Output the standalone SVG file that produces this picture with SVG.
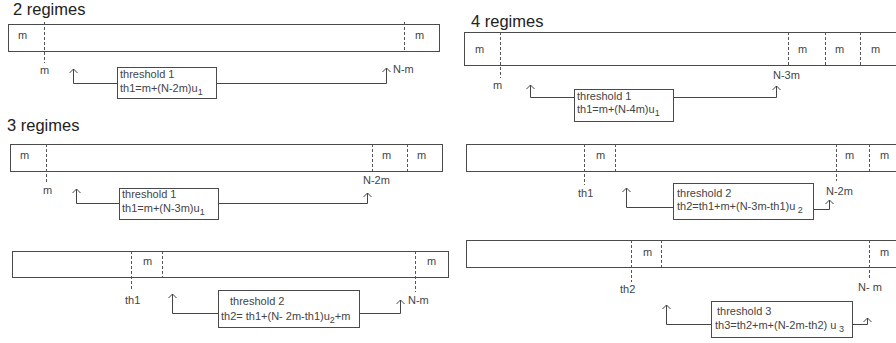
<svg xmlns="http://www.w3.org/2000/svg" width="896" height="343" viewBox="0 0 896 343">
<defs>
<style>
.bar{fill:#fff;stroke:#4a4a4a;stroke-width:1}
.box{fill:#fff;stroke:#4a4a4a;stroke-width:1}
.dash{stroke:#555;stroke-width:1;stroke-dasharray:3 2;fill:none}
.t{font-family:"Liberation Sans",Arial,sans-serif;font-size:11px;fill:#444}
.title{font-family:"Liberation Sans",Arial,sans-serif;font-size:16.5px;fill:#222}
.sub{font-size:9px}
.conn{fill:none;stroke:#444;stroke-width:1;marker-end:url(#arr)}
</style>
<marker id="arr" markerUnits="userSpaceOnUse" viewBox="0 0 6 10" markerWidth="6" markerHeight="10" refX="5.5" refY="5" orient="auto">
<path d="M1.5,1 L5.5,5 L1.5,9" fill="none" stroke="#444" stroke-width="1"/>
</marker>
</defs>
<rect width="896" height="343" fill="#fff"/>

<!-- Titles -->
<g id="titles">
<text class="title" x="13" y="14.5">2 regimes</text>
<text class="title" x="7" y="131">3 regimes</text>
<text class="title" x="471" y="27">4 regimes</text>
</g>

<!-- 2 regimes -->
<g id="bar2">
<rect class="bar" x="8.5" y="24.5" width="431" height="27"/>
<line class="dash" x1="44.5" y1="22" x2="44.5" y2="63"/>
<line class="dash" x1="404.5" y1="22" x2="404.5" y2="52"/>
<text class="t" x="18" y="39">m</text>
<text class="t" x="415" y="39">m</text>
<text class="t" x="40" y="74">m</text>
<text class="t" x="393" y="73">N-m</text>
</g>
<g id="th2r1">
<rect class="box" x="117.5" y="67.5" width="99" height="31"/>
<text class="t" x="120" y="78">threshold 1</text>
<text class="t" x="120" y="91.5">th1=m+(N-2m)u<tspan class="sub" dy="3">1</tspan></text>
</g>

<!-- 3 regimes, bar 1 -->
<g id="bar3a">
<rect class="bar" x="10.5" y="144.5" width="432" height="27"/>
<line class="dash" x1="46.5" y1="144" x2="46.5" y2="182"/>
<line class="dash" x1="372.5" y1="144" x2="372.5" y2="171"/>
<line class="dash" x1="407.5" y1="144" x2="407.5" y2="171"/>
<text class="t" x="20" y="159">m</text>
<text class="t" x="382" y="159">m</text>
<text class="t" x="417" y="159">m</text>
<text class="t" x="43" y="194">m</text>
<text class="t" x="363" y="184">N-2m</text>
</g>
<g id="th3r1">
<rect class="box" x="119.5" y="188.5" width="99" height="31"/>
<text class="t" x="122" y="198">threshold 1</text>
<text class="t" x="122" y="211.5">th1=m+(N-3m)u<tspan class="sub" dy="3">1</tspan></text>
</g>

<!-- 3 regimes, bar 2 -->
<g id="bar3b">
<rect class="bar" x="12.5" y="251.5" width="436" height="26"/>
<line class="dash" x1="131.5" y1="251" x2="131.5" y2="291"/>
<line class="dash" x1="162.5" y1="251" x2="162.5" y2="277"/>
<line class="dash" x1="415.5" y1="251" x2="415.5" y2="292"/>
<text class="t" x="143" y="265">m</text>
<text class="t" x="427" y="265">m</text>
<text class="t" x="125" y="304">th1</text>
<text class="t" x="408" y="304">N-m</text>
</g>
<g id="th3r2">
<rect class="box" x="218.5" y="290.5" width="141" height="37"/>
<text class="t" x="230" y="305">threshold 2</text>
<text class="t" x="221" y="320">th2= th1+(N- 2m-th1)u<tspan class="sub" dy="3">2</tspan><tspan dy="-3">+m</tspan></text>
</g>

<!-- 4 regimes, bar 1 -->
<g id="bar4a">
<rect class="bar" x="464.5" y="32.5" width="440" height="33"/>
<line class="dash" x1="500.5" y1="32" x2="500.5" y2="78"/>
<line class="dash" x1="788.5" y1="32" x2="788.5" y2="65"/>
<line class="dash" x1="825.5" y1="32" x2="825.5" y2="65"/>
<line class="dash" x1="860.5" y1="32" x2="860.5" y2="65"/>
<text class="t" x="475" y="53">m</text>
<text class="t" x="798" y="53">m</text>
<text class="t" x="835" y="53">m</text>
<text class="t" x="871" y="53">m</text>
<text class="t" x="493" y="89">m</text>
<text class="t" x="773" y="79">N-3m</text>
</g>
<g id="th4r1">
<rect class="box" x="574.5" y="89.5" width="99" height="32"/>
<text class="t" x="577" y="100">threshold 1</text>
<text class="t" x="577" y="113">th1=m+(N-4m)u<tspan class="sub" dy="3">1</tspan></text>
</g>

<!-- 4 regimes, bar 2 -->
<g id="bar4b">
<rect class="bar" x="466.5" y="144.5" width="440" height="27"/>
<line class="dash" x1="584.5" y1="144" x2="584.5" y2="185"/>
<line class="dash" x1="615.5" y1="144" x2="615.5" y2="171"/>
<line class="dash" x1="836.5" y1="144" x2="836.5" y2="181"/>
<line class="dash" x1="869.5" y1="144" x2="869.5" y2="171"/>
<text class="t" x="596" y="159">m</text>
<text class="t" x="845" y="159">m</text>
<text class="t" x="880" y="159">m</text>
<text class="t" x="578" y="197">th1</text>
<text class="t" x="826" y="195">N-2m</text>
</g>
<g id="th4r2">
<rect class="box" x="673.5" y="183.5" width="140" height="36"/>
<text class="t" x="677" y="197">threshold 2</text>
<text class="t" x="677" y="210">th2=th1+m+(N-3m-th1)u<tspan class="sub" dy="3"> 2</tspan></text>
</g>

<!-- 4 regimes, bar 3 -->
<g id="bar4c">
<rect class="bar" x="466.5" y="240.5" width="440" height="27"/>
<line class="dash" x1="631.5" y1="240" x2="631.5" y2="282"/>
<line class="dash" x1="661.5" y1="240" x2="661.5" y2="267"/>
<line class="dash" x1="869.5" y1="240" x2="869.5" y2="280"/>
<text class="t" x="643" y="256">m</text>
<text class="t" x="880" y="256">m</text>
<text class="t" x="620" y="293">th2</text>
<text class="t" x="858" y="291">N- m</text>
</g>
<g id="th4r3">
<rect class="box" x="711.5" y="301.5" width="141" height="36"/>
<text class="t" x="717" y="315">threshold 3</text>
<text class="t" x="715" y="329">th3=th2+m+(N-2m-th2) u<tspan class="sub" dy="3"> 3</tspan></text>
</g>

<!-- Connectors -->
<g id="connectors">
<polyline class="conn" points="117.5,83.5 73.5,83.5 73.5,69"/>
<polyline class="conn" points="216.5,83.5 386.5,83.5 386.5,68"/>
<polyline class="conn" points="119.5,203.5 76.5,203.5 76.5,189"/>
<polyline class="conn" points="218.5,203.5 367.5,203.5 367.5,193"/>
<polyline class="conn" points="218.5,313.5 172.5,313.5 172.5,294"/>
<polyline class="conn" points="359.5,313.5 400.5,313.5 400.5,300"/>
<polyline class="conn" points="574.5,97.5 530.5,97.5 530.5,85"/>
<polyline class="conn" points="673.5,97.5 776.5,97.5 776.5,86"/>
<polyline class="conn" points="673.5,207.5 626.5,207.5 626.5,188"/>
<polyline class="conn" points="813.5,209.5 829.5,209.5 829.5,200"/>
<polyline class="conn" points="711.5,324.5 666.5,324.5 666.5,305"/>
<polyline class="conn" points="852.5,324.5 867.5,324.5 867.5,318"/>
</g>
</svg>
